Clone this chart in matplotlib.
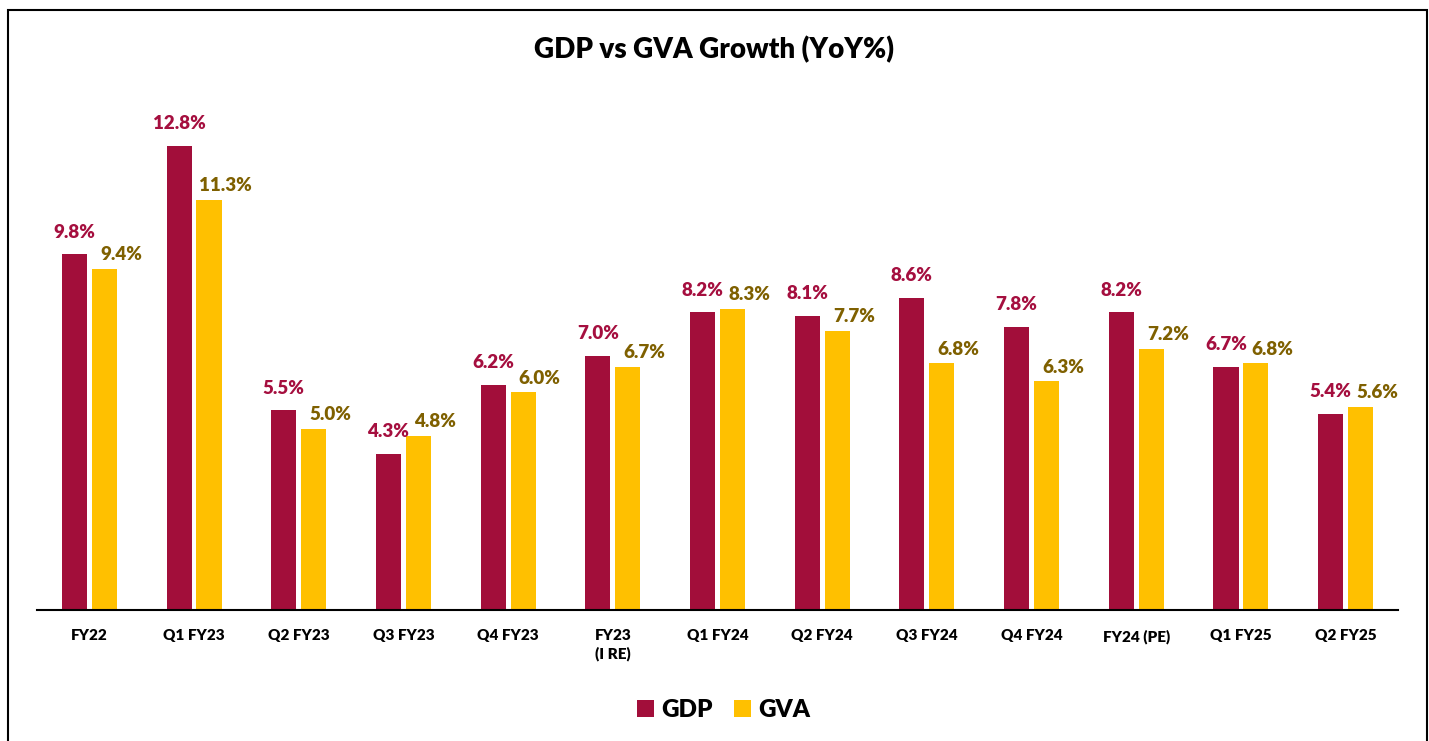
import numpy as np
import matplotlib.pyplot as plt
from matplotlib.patches import Rectangle

# 数据
categories = ['FY22', 'Q1 FY23', 'Q2 FY23', 'Q3 FY23', 'Q4 FY23', 'FY23\n(I RE)',
              'Q1 FY24', 'Q2 FY24', 'Q3 FY24', 'Q4 FY24', 'FY24 (PE)', 'Q1 FY25', 'Q2 FY25']
gdp = [9.8, 12.8, 5.5, 4.3, 6.2, 7.0, 8.2, 8.1, 8.6, 7.8, 8.2, 6.7, 5.4]
gva = [9.4, 11.3, 5.0, 4.8, 6.0, 6.7, 8.3, 7.7, 6.8, 6.3, 7.2, 6.8, 5.6]

gdp_color = '#A20E3A'
gva_color = '#FFC000'
gdp_text = '#A50F3F'
gva_text = '#7F6000'

plt.rcParams['font.family'] = ['Lato', 'DejaVu Sans']
wt = 'heavy'

W, H = 1429, 741
fig = plt.figure(figsize=(W / 100, H / 100), dpi=100)
ax = fig.add_axes([37 / W, (H - 610) / H, 1361 / W, 508 / H])

x = np.arange(len(categories))
bw = 0.24
off = 0.143
ax.bar(x - off, gdp, bw, color=gdp_color, label='GDP')
ax.bar(x + off, gva, bw, color=gva_color, label='GVA')

for i in range(len(x)):
    ax.annotate(f'{gdp[i]:.1f}%', (x[i] - off, gdp[i]), xytext=(0, 10), textcoords='offset points',
                ha='center', va='bottom', fontsize=13.5, fontweight=wt, color=gdp_text)
    ax.annotate(f'{gva[i]:.1f}%', (x[i] + off, gva[i]), xytext=(12, 4), textcoords='offset points',
                ha='center', va='bottom', fontsize=13.5, fontweight=wt, color=gva_text)

ax.set_xlim(-0.5, len(x) - 0.5)
ax.set_ylim(0, 14)
ax.set_xticks(x)
ax.set_xticklabels(categories, fontsize=11, fontweight=wt, linespacing=1.35)
ax.tick_params(axis='x', length=0, pad=14)
ax.set_yticks([])
for s in ['top', 'right', 'left']:
    ax.spines[s].set_visible(False)
ax.spines['bottom'].set_linewidth(1.5)

fig.text(0.5, (H - 50) / H, 'GDP vs GVA Growth (YoY%)', ha='center', va='center',
         fontsize=20, fontweight=wt)

fig.legend(loc='center', bbox_to_anchor=(0.5 + 9 / W, (H - 710) / H), ncol=2, frameon=False,
           prop={'size': 17.5, 'weight': wt}, handlelength=0.7, handleheight=0.7,
           columnspacing=0.85, handletextpad=0.3)

# 外边框
fig.patches.append(Rectangle((8 / W, -0.05), (1427 - 8) / W, (H - 10) / H + 0.05,
                             transform=fig.transFigure, fill=False, edgecolor='black',
                             linewidth=1.5, clip_on=False))

plt.savefig('out.png', dpi=100)
